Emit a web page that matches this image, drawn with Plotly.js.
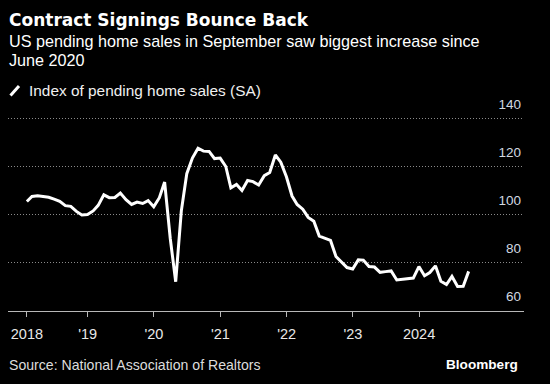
<!DOCTYPE html>
<html>
<head>
<meta charset="utf-8">
<script src="https://cdn.plot.ly/plotly-3.0.1.min.js"></script>
<style>
html,body{margin:0;padding:0;background:#000;}
#chart{width:550px;height:384px;}
</style>
</head>
<body>
<div id="chart"></div>
<script>
// Index of pending home sales (SA), monthly, Jan 2018 - Sep 2024
const v2018 = [105.4, 107.5, 107.8, 107.6, 107.2, 106.4, 105.5, 103.7, 103.4, 101.3, 99.8, 100.0];
const v2019 = [101.5, 103.8, 108.2, 107.0, 107.1, 108.9, 106.2, 104.2, 105.2, 104.6, 105.8, 103.2];
const v2020 = [107.0, 113.5, 90.0, 72.0, 101.5, 117.0, 123.5, 127.6, 126.4, 126.3, 123.3, 123.5];
const v2021 = [120.0, 111.1, 112.5, 110.0, 114.2, 113.7, 112.3, 116.2, 117.5, 124.8, 121.8, 115.7];
const v2022 = [107.7, 104.2, 102.2, 98.8, 97.2, 91.0, 90.1, 89.2, 82.5, 80.0, 77.9, 77.3];
const v2023 = [81.1, 81.0, 78.3, 78.1, 75.9, 76.2, 76.5, 72.7, 72.9, 73.2, 73.5, 78.3];
const v2024 = [74.5, 75.8, 78.6, 72.2, 70.8, 74.2, 70.0, 70.1, 76.3];
const years = [2018, 2019, 2020, 2021, 2022, 2023, 2024];
const yearValues = [v2018, v2019, v2020, v2021, v2022, v2023, v2024];

const tickVals = ['2018-01-31', '2019-01-01', '2020-01-01', '2021-01-01', '2022-01-01', '2023-01-01', '2024-01-01'];
const tickText = ['2018', "'19", "'20", "'21", "'22", "'23", '2024'];
const yTicks = [60, 80, 100, 120, 140];

const title = 'Contract Signings Bounce Back';
const subtitle1 = 'US pending home sales in September saw biggest increase since';
const subtitle2 = 'June 2020';
const seriesName = 'Index of pending home sales (SA)';
const source = 'Source: National Association of Realtors';
const brand = 'Bloomberg';

// build month-end dates
const dates = [], vals = [];
function pad(n){return (n<10?'0':'')+n;}
years.forEach((yr, i) => {
  yearValues[i].forEach((v, m) => {
    const d = new Date(Date.UTC(yr, m + 1, 0));
    dates.push(d.getUTCFullYear() + '-' + pad(d.getUTCMonth() + 1) + '-' + pad(d.getUTCDate()));
    vals.push(v);
  });
});

// plot area in pixels: x 8..524, y 112..311 ; 2.4 px per index point
const L = 8, R = 524, T = 112, B = 311;
const PPU = 2.4;
const yMin = 60 - 0.5 / PPU;               // half-pixel offset for crisp dotted grid
const yMax = yMin + (B - T) / PPU;
const px = x => (x - L) / (R - L);
const py = y => (B - y) / (B - T);

const REG = 'Liberation Sans, Arial, sans-serif';

const trace = {
  x: dates, y: vals, type: 'scatter', mode: 'lines', name: seriesName,
  line: {color: '#ffffff', width: 3, shape: 'linear'},
  hoverinfo: 'skip', showlegend: false
};

const layout = {
  width: 550, height: 384,
  paper_bgcolor: '#000000', plot_bgcolor: '#000000',
  margin: {l: L, r: 550 - R, t: T, b: 384 - B, pad: 0},
  showlegend: false,
  xaxis: {
    type: 'date', range: ['2017-10-19', '2025-08-01'],
    tickmode: 'array', tickvals: tickVals, ticktext: tickText,
    ticks: 'outside', ticklen: 5, tickwidth: 1, tickcolor: '#b8b8b8',
    showline: true, linecolor: '#b8b8b8', linewidth: 1,
    showgrid: false, zeroline: false,
    tickfont: {family: REG, size: 14.5, color: '#e8e8e8'},
    ticklabelstandoff: 5,
    fixedrange: true
  },
  yaxis: {
    range: [yMin, yMax], side: 'right',
    tickmode: 'array', tickvals: yTicks,
    ticks: '', ticklabelposition: 'inside', ticklabeloverflow: 'allow',
    ticklabelshift: -14, ticklabelstandoff: 0,
    showgrid: true, gridcolor: '#8a8a8a', gridwidth: 1, griddash: '1px,2px',
    showline: false, zeroline: false,
    tickfont: {family: REG, size: 13.5, color: '#d2d9e0'},
    fixedrange: true
  },
  shapes: [
    {type: 'line', xref: 'paper', yref: 'paper', x0: px(10.5), y0: py(95.5), x1: px(19), y1: py(86),
     line: {color: '#ffffff', width: 3}}
  ],
  annotations: [
    {text: '<b>' + title + '</b>', xref: 'paper', yref: 'paper', x: px(7), y: py(19.5), xanchor: 'left', yanchor: 'middle',
     showarrow: false, font: {family: 'DejaVu Sans, sans-serif', size: 17, color: '#ffffff'}},
    {text: subtitle1, xref: 'paper', yref: 'paper', x: px(7), y: py(41), xanchor: 'left', yanchor: 'middle',
     showarrow: false, font: {family: REG, size: 16.2, color: '#ffffff'}},
    {text: subtitle2, xref: 'paper', yref: 'paper', x: px(7), y: py(60), xanchor: 'left', yanchor: 'middle',
     showarrow: false, font: {family: REG, size: 16.2, color: '#ffffff'}},
    {text: seriesName, xref: 'paper', yref: 'paper', x: px(27), y: py(90), xanchor: 'left', yanchor: 'middle',
     showarrow: false, font: {family: REG, size: 15.4, color: '#f0f0f0'}},
    {text: source, xref: 'paper', yref: 'paper', x: px(7), y: py(365), xanchor: 'left', yanchor: 'middle',
     showarrow: false, font: {family: REG, size: 14.1, color: '#dcdcdc'}},
    {text: '<b>' + brand + '</b>', xref: 'paper', yref: 'paper', x: px(520), y: py(364), xanchor: 'right', yanchor: 'middle',
     showarrow: false, font: {family: REG, size: 13.6, color: '#ffffff'}}
  ]
};

Plotly.newPlot('chart', [trace], layout, {displayModeBar: false, staticPlot: true});
</script>
</body>
</html>
